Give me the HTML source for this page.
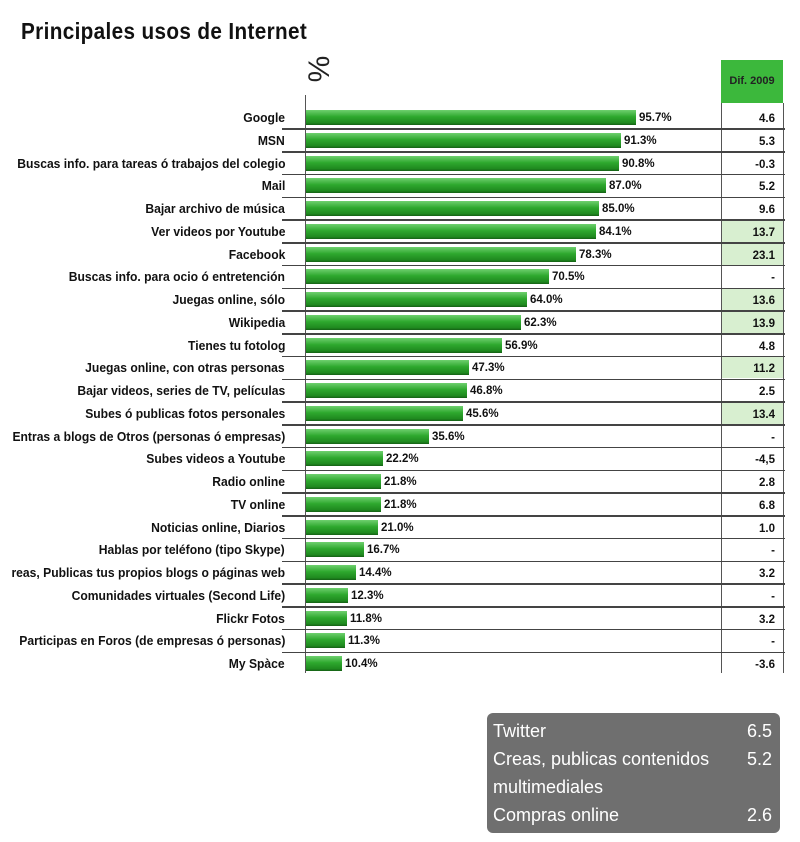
<!DOCTYPE html>
<html><head><meta charset="utf-8"><style>
body{margin:0;width:800px;height:842px;background:#fff;position:relative;overflow:hidden;font-family:"Liberation Sans",sans-serif}
.t{position:absolute;left:21px;top:18px;font-size:23px;font-weight:bold;color:#111;transform-origin:0 0;transform:scaleX(0.9);white-space:nowrap;letter-spacing:0.4px}
.pc{position:absolute;left:303px;top:52px;font-size:30px;transform:rotate(-90deg);transform-origin:center;width:34px;text-align:center;color:#222}
.ax{position:absolute;left:305px;top:95px;width:1px;height:578px;background:#555}
.hdr{position:absolute;left:721px;top:60px;width:62px;height:43px;background:#3cb83c;font-size:11px;font-weight:bold;color:#222;text-align:center;line-height:43px}
.vl{position:absolute;left:721px;top:103px;width:1px;height:570px;background:#555}
.vr{position:absolute;left:783px;top:103px;width:1px;height:570px;background:#555}
#rows{position:absolute;left:0;top:107px}
.r{position:relative;height:22.75px;width:785px}
.r::after{content:"";position:absolute;left:282px;right:0;bottom:0;height:1.5px;background:#444}
.r:last-child::after{display:none}
.l{position:absolute;right:500px;top:4px;font-size:12.5px;font-weight:bold;white-space:nowrap;color:#111;transform-origin:right center;transform:scaleX(0.97)}
.b{position:absolute;left:306px;top:3px;height:15px;background:linear-gradient(#6fd06f,#2ea82e 45%,#1f8a1f 85%,#155f15)}
.v{position:absolute;top:5px;font-size:11.5px;font-weight:bold;color:#111}
.d{position:absolute;left:722px;width:61px;top:0;height:21px;text-align:right;font-size:11.5px;font-weight:bold;line-height:24px;box-sizing:border-box;padding-right:8px;color:#111}
.h{background:#d8efd0}
.box{position:absolute;left:487px;top:713px;width:293px;height:120px;background:#6f6f6f;border-radius:6px;color:#fff;font-size:18px;line-height:28px;box-sizing:border-box;padding:4px 8px 0 6px}
.box div{display:flex;justify-content:space-between}
</style></head><body>
<div class="t">Principales usos de Internet</div>
<div class="pc">%</div>
<div class="hdr">Dif. 2009</div>
<div class="vl"></div><div class="vr"></div>
<div class="ax"></div>
<div id="rows">
<div class="r"><div class="l">Google</div><div class="b" style="width:330px"></div><div class="v" style="left:639px">95.7%</div><div class="d">4.6</div></div>
<div class="r"><div class="l">MSN</div><div class="b" style="width:315px"></div><div class="v" style="left:624px">91.3%</div><div class="d">5.3</div></div>
<div class="r"><div class="l">Buscas info. para tareas ó trabajos del colegio</div><div class="b" style="width:313px"></div><div class="v" style="left:622px">90.8%</div><div class="d">-0.3</div></div>
<div class="r"><div class="l">Mail</div><div class="b" style="width:300px"></div><div class="v" style="left:609px">87.0%</div><div class="d">5.2</div></div>
<div class="r"><div class="l">Bajar archivo de música</div><div class="b" style="width:293px"></div><div class="v" style="left:602px">85.0%</div><div class="d">9.6</div></div>
<div class="r"><div class="l">Ver videos por Youtube</div><div class="b" style="width:290px"></div><div class="v" style="left:599px">84.1%</div><div class="d h">13.7</div></div>
<div class="r"><div class="l">Facebook</div><div class="b" style="width:270px"></div><div class="v" style="left:579px">78.3%</div><div class="d h">23.1</div></div>
<div class="r"><div class="l">Buscas info. para ocio ó entretención</div><div class="b" style="width:243px"></div><div class="v" style="left:552px">70.5%</div><div class="d">-</div></div>
<div class="r"><div class="l">Juegas online, sólo</div><div class="b" style="width:221px"></div><div class="v" style="left:530px">64.0%</div><div class="d h">13.6</div></div>
<div class="r"><div class="l">Wikipedia</div><div class="b" style="width:215px"></div><div class="v" style="left:524px">62.3%</div><div class="d h">13.9</div></div>
<div class="r"><div class="l">Tienes tu fotolog</div><div class="b" style="width:196px"></div><div class="v" style="left:505px">56.9%</div><div class="d">4.8</div></div>
<div class="r"><div class="l">Juegas online, con otras personas</div><div class="b" style="width:163px"></div><div class="v" style="left:472px">47.3%</div><div class="d h">11.2</div></div>
<div class="r"><div class="l">Bajar videos, series de TV, películas</div><div class="b" style="width:161px"></div><div class="v" style="left:470px">46.8%</div><div class="d">2.5</div></div>
<div class="r"><div class="l">Subes ó publicas fotos personales</div><div class="b" style="width:157px"></div><div class="v" style="left:466px">45.6%</div><div class="d h">13.4</div></div>
<div class="r"><div class="l">Entras a blogs de Otros (personas ó empresas)</div><div class="b" style="width:123px"></div><div class="v" style="left:432px">35.6%</div><div class="d">-</div></div>
<div class="r"><div class="l">Subes videos a Youtube</div><div class="b" style="width:77px"></div><div class="v" style="left:386px">22.2%</div><div class="d">-4,5</div></div>
<div class="r"><div class="l">Radio online</div><div class="b" style="width:75px"></div><div class="v" style="left:384px">21.8%</div><div class="d">2.8</div></div>
<div class="r"><div class="l">TV online</div><div class="b" style="width:75px"></div><div class="v" style="left:384px">21.8%</div><div class="d">6.8</div></div>
<div class="r"><div class="l">Noticias online, Diarios</div><div class="b" style="width:72px"></div><div class="v" style="left:381px">21.0%</div><div class="d">1.0</div></div>
<div class="r"><div class="l">Hablas por teléfono (tipo Skype)</div><div class="b" style="width:58px"></div><div class="v" style="left:367px">16.7%</div><div class="d">-</div></div>
<div class="r"><div class="l">reas, Publicas tus propios blogs o páginas web</div><div class="b" style="width:50px"></div><div class="v" style="left:359px">14.4%</div><div class="d">3.2</div></div>
<div class="r"><div class="l">Comunidades virtuales (Second Life)</div><div class="b" style="width:42px"></div><div class="v" style="left:351px">12.3%</div><div class="d">-</div></div>
<div class="r"><div class="l">Flickr Fotos</div><div class="b" style="width:41px"></div><div class="v" style="left:350px">11.8%</div><div class="d">3.2</div></div>
<div class="r"><div class="l">Participas en Foros (de empresas ó personas)</div><div class="b" style="width:39px"></div><div class="v" style="left:348px">11.3%</div><div class="d">-</div></div>
<div class="r"><div class="l">My Spàce</div><div class="b" style="width:36px"></div><div class="v" style="left:345px">10.4%</div><div class="d">-3.6</div></div>
</div>
<div class="box">
<div><span>Twitter</span><span>6.5</span></div>
<div><span>Creas, publicas contenidos</span><span>5.2</span></div>
<div><span>multimediales</span><span></span></div>
<div><span>Compras online</span><span>2.6</span></div>
</div>
</body></html>
